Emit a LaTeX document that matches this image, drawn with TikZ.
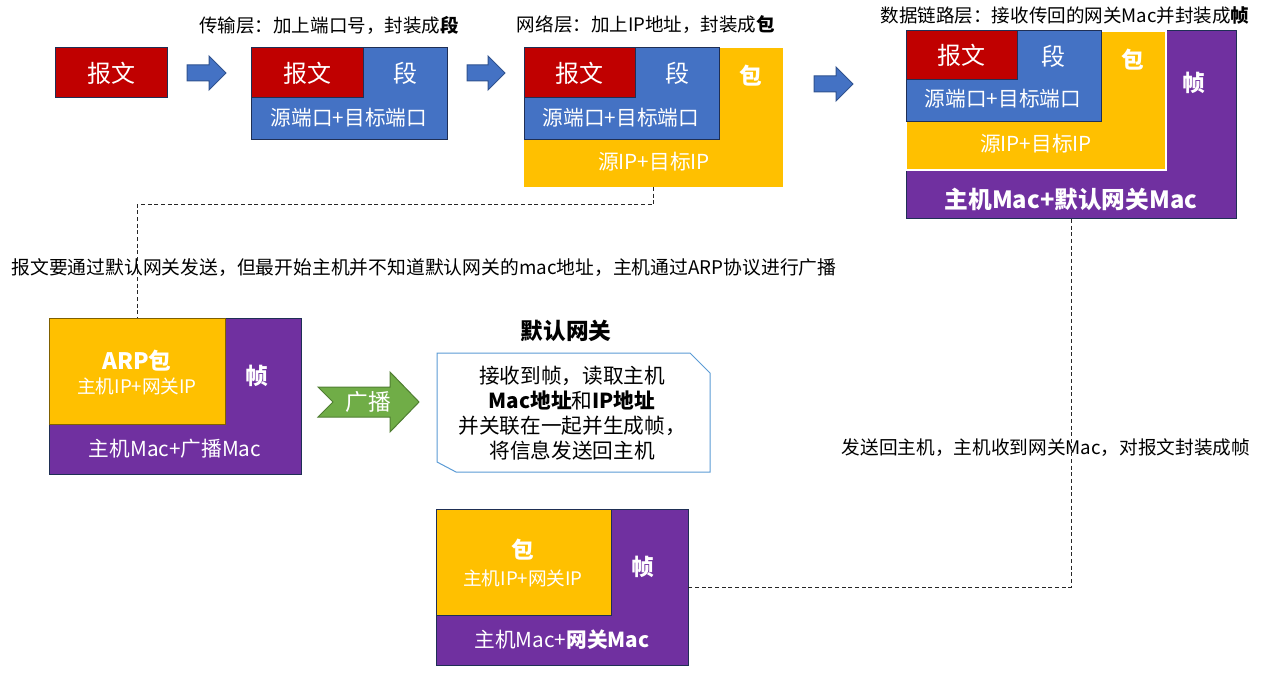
\documentclass[tikz,border=0pt]{standalone}
\usepackage{fontspec}
\setmainfont{Noto Sans CJK SC}
\usetikzlibrary{fit}
\definecolor{cred}{HTML}{C00000}
\definecolor{cblue}{HTML}{4472C4}
\definecolor{cyel}{HTML}{FFC000}
\definecolor{cpur}{HTML}{7030A0}
\definecolor{cgreen}{HTML}{70AD47}
\definecolor{cgreenb}{HTML}{507E32}
\definecolor{cnavy}{HTML}{1F2F55}
\definecolor{cblueb}{HTML}{2F528F}
\definecolor{colive}{HTML}{7F6000}
\definecolor{ccall}{HTML}{5B9BD5}
\begin{document}
\begin{tikzpicture}[x=0.75pt,y=-0.75pt,
  box/.style={inner sep=0pt,outer sep=0pt,line width=0.75pt},
  nbox/.style={box,draw=cnavy},
  wt/.style={text=white,inner sep=0pt,font=\fontsize{15.5}{18}\selectfont},
  wbig/.style={text=white,inner sep=0pt,font=\fontsize{18}{21}\selectfont},
  wbold/.style={text=white,inner sep=0pt,font=\fontsize{17}{20}\selectfont\bfseries},
  ttl/.style={inner sep=0pt,font=\fontsize{13.9}{16}\selectfont},
  barrow/.style={fill=cblue,draw=cblueb,line width=0.75pt},
  conn/.style={draw=black!85,line width=0.75pt,dash pattern=on 3pt off 2pt}
]
\useasboundingbox (0,0) rectangle (1287,673);

% ---- 1: message
\node[nbox,fill=cred,fit={(55,48) (167,98)}] (msg) {};
\node[wbig] (msgt) at (msg.center) {报文};

\draw[barrow] (187,65) -- (209,65) -- (209,56) -- (226,73) -- (209,90) -- (209,81) -- (187,81) -- cycle;

% ---- 2: segment
\node[ttl] (t1) at (329,25) {传输层：加上端口号，封装成\textbf{段}};
\node[nbox,fill=cblue,fit={(251,48) (447,140)}] (seg) {};
\node[nbox,fill=cred,fit={(251,48) (363,98)}] (segm) {};
\node[wbig] at (segm.center) (segmt) {报文};
\node[wbig] at (405,73) (segt) {段};
\node[wt] at (349,118) (segp) {源端口+目标端口};

\draw[barrow] (467,65) -- (488,65) -- (488,56) -- (505,73) -- (488,90) -- (488,81) -- (467,81) -- cycle;

% ---- 3: packet
\node[ttl] (t2) at (646,25) {网络层：加上IP地址，封装成\textbf{包}};
\node[box,fill=cyel,fit={(524,48) (783,187)}] (pkt) {};
\node[nbox,fill=cblue,fit={(524,48) (719,140)}] (pkts) {};
\node[nbox,fill=cred,fit={(524,48) (635,98)}] (pktm) {};
\node[wbig] at (pktm.center) (pktmt) {报文};
\node[wbig] at (677,73) (pktst) {段};
\node[wbold] at (751,76) (pktt) {包};
\node[wt] at (621,118) (pktp) {源端口+目标端口};
\node[wt] at (654,162) (pktip) {源IP+目标IP};

\draw[barrow] (814,76) -- (836,76) -- (836,67) -- (853,84) -- (836,101) -- (836,92) -- (814,92) -- cycle;

% ---- 4: frame
\node[ttl] (t3) at (1065,15) {数据链路层：接收传回的网关Mac并封装成\textbf{帧}};
\node[nbox,fill=cpur,fit={(906,31) (1236,219)}] (frm) {};
\node[box,fill=cyel,draw=white,line width=1.5pt,fit={(906,31) (1166,170)}] (frmp) {};
\node[nbox,fill=cblue,fit={(906,31) (1101,122)}] (frms) {};
\node[nbox,fill=cred,fit={(906,31) (1017,80)}] (frmm) {};
\node[wbig] at (frmm.center) (frmmt) {报文};
\node[wbig] at (1053,56) (frmst) {段};
\node[wbold] at (1133,60) (frmpt) {包};
\node[wbold] at (1194,83) (frmt) {帧};
\node[wt] at (1003,99) (frmport) {源端口+目标端口};
\node[wt] at (1036,144) (frmip) {源IP+目标IP};
\node[wbold,font=\fontsize{17.8}{20}\selectfont\bfseries] at (1071,199) (frmmac) {主机Mac+默认网关Mac};

% ---- explanatory text
\node[inner sep=0pt,font=\fontsize{14.1}{16}\selectfont] (ex1) at (424,268) {报文要通过默认网关发送，但最开始主机并不知道默认网关的mac地址，主机通过ARP协议进行广播};

% ---- ARP frame
\node[nbox,fill=cpur,fit={(49,318) (301,474)}] (arp) {};
\node[box,fill=cyel,draw=colive,fit={(49,318) (225,424)}] (arpp) {};
\node[wbold] at (137,361) (arpt) {ARP包};
\node[wt,font=\fontsize{14}{16}\selectfont] at (137,386) (arpip) {主机IP+网关IP};
\node[wbold] at (257,376) (arpf) {帧};
\node[wt] at (175,449) (arpmac) {主机Mac+广播Mac};

% ---- broadcast arrow
\draw[fill=cgreen,draw=cgreenb,line width=0.75pt] (318,387) -- (390,387) -- (390,372) -- (419,402) -- (390,432) -- (390,417) -- (318,417) -- (333,402) -- cycle;
\node[wbig,font=\fontsize{17}{20}\selectfont] at (368,402) (bc) {广播};

% ---- gateway callout
\node[inner sep=0pt,font=\fontsize{17}{20}\selectfont\bfseries] (gwt) at (566,331) {默认网关};
\draw[draw=ccall,fill=white,line width=0.75pt] (437,353) -- (690,353) -- (710,373) -- (710,472) -- (456,472) -- (437,462) -- cycle;
\node[inner sep=0pt,align=center,font=\fontsize{15.5}{18.8}\selectfont] (gwbody) at (572,413)
  {接收到帧，读取主机\\\textbf{Mac地址}和\textbf{IP地址}\\并关联在一起并生成帧，\\将信息发送回主机};

% ---- returned frame
\node[nbox,fill=cpur,fit={(436,509) (688,665)}] (ret) {};
\node[box,fill=cyel,draw=cnavy,fit={(436,509) (611,615)}] (retp) {};
\node[wbold] at (523,550) (rett) {包};
\node[wt,font=\fontsize{14}{16}\selectfont] at (523,578) (retip) {主机IP+网关IP};
\node[wbold] at (643,567) (retf) {帧};
\node[wt] at (562,640) (retmac) {主机Mac+\textbf{网关Mac}};

\node[inner sep=0pt,font=\fontsize{14}{16}\selectfont] (ex2) at (1046,448) {发送回主机，主机收到网关Mac，对报文封装成帧};

% ---- connectors
\draw[conn] (pkt.south) -- ++(0,18) -| (arpp.north);
\draw[conn] (frm.south) |- (ret.east);
\end{tikzpicture}
\end{document}
